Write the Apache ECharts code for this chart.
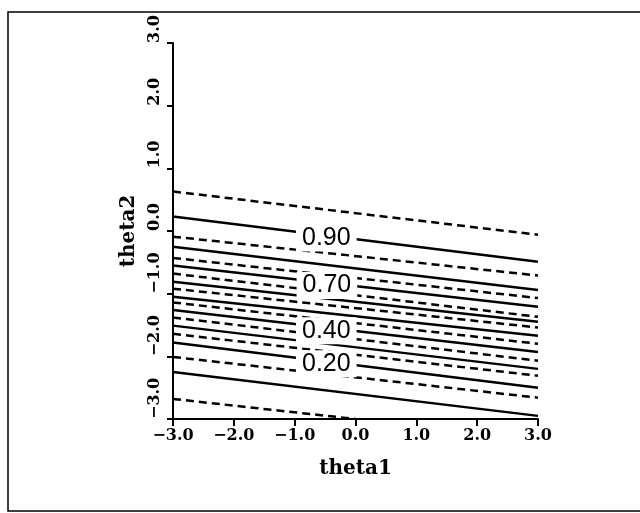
<!DOCTYPE html>
<html>
<head>
<meta charset="utf-8">
<script src="https://cdn.jsdelivr.net/npm/echarts@6/dist/echarts.min.js"></script>
<style>
html,body{margin:0;padding:0;background:#fff;}
#chart{width:640px;height:513px;}
</style>
</head>
<body>
<div id="chart"></div>
<script>
// Contour levels (top to bottom)
const levels = [0.95, 0.90, 0.85, 0.80, 0.75, 0.70, 0.65, 0.60, 0.55, 0.50, 0.45, 0.40, 0.35, 0.30, 0.25, 0.20, 0.15, 0.10, 0.05];
// theta2 value of each contour at theta1 = -3.0
const yLeft = [0.63, 0.23, -0.09, -0.25, -0.43, -0.55, -0.68, -0.81, -0.92, -1.05, -1.14, -1.26, -1.38, -1.51, -1.64, -1.78, -2.01, -2.25, -2.68];
// theta1 where each contour ends on the right
const xRight = [3, 3, 3, 3, 3, 3, 3, 3, 3, 3, 3, 3, 3, 3, 3, 3, 3, 3, 0.0];
// theta2 value of each contour at its right end
const yRight = [-0.06, -0.49, -0.71, -0.94, -1.07, -1.21, -1.37, -1.45, -1.54, -1.67, -1.80, -1.93, -2.07, -2.20, -2.31, -2.50, -2.66, -2.95, -3.0];

// Contour labels
const labelTexts = ['0.90', '0.70', '0.40', '0.20'];
const labelX = [-0.48, -0.47, -0.48, -0.48];
const labelY = [-0.11, -0.87, -1.59, -2.12];

// Tick labels
const xTickValues = [-3, -2, -1, 0, 1, 2, 3];
const xTickLabels = ['\u22123.0', '\u22122.0', '\u22121.0', '0.0', '1.0', '2.0', '3.0'];
const yTickValues = [-3, -2, -1, 0, 1, 2, 3];
const yTickLabels = ['\u22123.0', '\u22122.0', '\u22121.0', '0.0', '1.0', '2.0', '3.0'];

const chart = echarts.init(document.getElementById('chart'), null, {renderer: 'canvas'});

const tickFont = {fontFamily: 'DejaVu Serif', fontWeight: 'bold', fontSize: 16, color: '#000'};
const series = levels.map((lv, i) => {
  const solid = Math.round(lv * 100) % 10 === 0;
  return {
    type: 'line',
    data: [[-3, yLeft[i]], [xRight[i], yRight[i]]],
    symbol: 'none',
    silent: true,
    z: 2,
    lineStyle: {color: '#000', width: 2.5, type: solid ? 'solid' : [8, 5]}
  };
});
series.push({
  type: 'scatter',
  symbolSize: 0,
  z: 10,
  silent: true,
  itemStyle: {opacity: 1},
  data: labelTexts.map((t, i) => ({name: t, value: [labelX[i], labelY[i]]})),
  label: {
    show: true,
    position: 'inside',
    formatter: p => p.name,
    fontFamily: 'Liberation Sans',
    fontSize: 25,
    color: '#000',
    opacity: 1,
    backgroundColor: '#fff',
    padding: [1, 6, 1, 6]
  }
});

chart.setOption({
  animation: false,
  backgroundColor: '#fff',
  grid: {left: 173, right: 102, top: 43, bottom: 94, containLabel: false},
  xAxis: {
    type: 'value', min: -3, max: 3, interval: 1,
    name: 'theta1', nameLocation: 'middle', nameGap: 40,
    nameTextStyle: {fontFamily: 'DejaVu Serif', fontWeight: 'bold', fontSize: 20, color: '#000'},
    axisLine: {show: true, onZero: false, lineStyle: {color: '#000', width: 2}},
    axisTick: {show: true, length: 7, lineStyle: {color: '#000', width: 2}},
    splitLine: {show: false},
    axisLabel: Object.assign({margin: 9, formatter: v => xTickLabels[xTickValues.indexOf(v)]}, tickFont)
  },
  yAxis: {
    type: 'value', min: -3, max: 3, interval: 1,
    name: 'theta2', nameLocation: 'middle', nameGap: 32,
    nameTextStyle: {fontFamily: 'DejaVu Serif', fontWeight: 'bold', fontSize: 20, color: '#000'},
    axisLine: {show: true, onZero: false, lineStyle: {color: '#000', width: 2}},
    axisTick: {show: true, length: 6, lineStyle: {color: '#000', width: 2}},
    splitLine: {show: false},
    axisLabel: Object.assign({margin: 10, rotate: 90, align: 'left', verticalAlign: 'bottom', formatter: v => yTickLabels[yTickValues.indexOf(v)]}, tickFont)
  },
  graphic: [{
    type: 'rect',
    silent: true,
    shape: {x: 8, y: 12, width: 640, height: 499},
    style: {fill: 'none', stroke: '#000', lineWidth: 1.5}
  }],
  series: series
});
</script>
</body>
</html>
